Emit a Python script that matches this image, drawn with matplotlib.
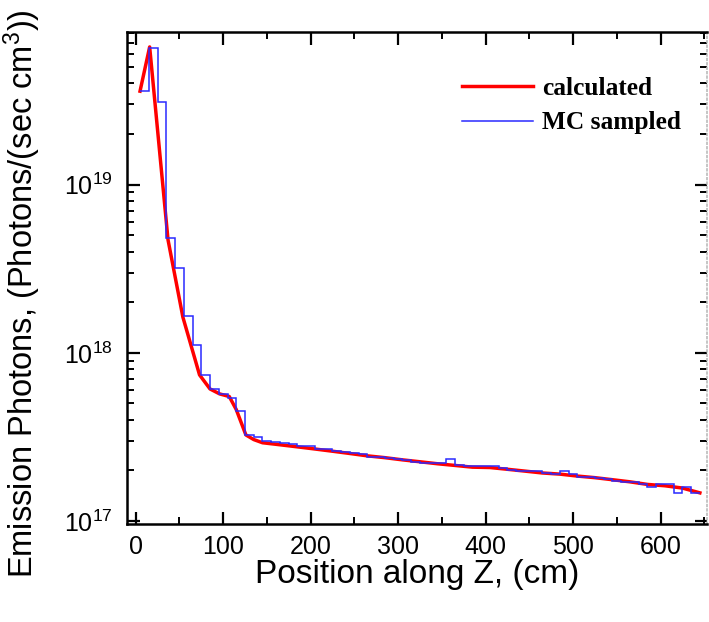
import numpy as np
import matplotlib
matplotlib.use("Agg")
import matplotlib.pyplot as plt
from matplotlib.ticker import LogLocator, MultipleLocator, LogFormatterSciNotation

plt.rcParams['font.family'] = ['Liberation Sans', 'DejaVu Sans']
plt.rcParams['mathtext.fontset'] = 'custom'
plt.rcParams['mathtext.rm'] = 'Liberation Sans'
plt.rcParams['mathtext.it'] = 'Liberation Sans'

# calculated curve (position cm, photons/(sec cm^3))
calc_z = [5, 16, 37, 54, 73, 85, 96, 107, 115, 126, 135, 145, 160, 185, 205, 225,
          245, 265, 285, 305, 325, 345, 365, 385, 405, 425, 445, 465, 485, 505,
          525, 545, 565, 585, 605, 625, 645]
calc_v = [3.6e19, 6.6e19, 4.7e18, 1.63e18, 7.4e17, 6.1e17, 5.7e17, 5.5e17, 4.6e17,
          3.25e17, 3.05e17, 2.92e17, 2.86e17, 2.76e17, 2.68e17, 2.60e17, 2.52e17,
          2.44e17, 2.38e17, 2.31e17, 2.25e17, 2.19e17, 2.14e17, 2.09e17, 2.08e17,
          2.03e17, 1.98e17, 1.93e17, 1.90e17, 1.85e17, 1.81e17, 1.76e17, 1.71e17,
          1.65e17, 1.62e17, 1.57e17, 1.47e17]

# MC sampled histogram (bin edges 5..645, width 10 cm)
mc_edges = list(range(5, 646, 10))
mc_v = [3.6e19, 6.5e19, 3.1e19, 4.8e18, 3.2e18, 1.66e18, 1.12e18, 7.4e17, 6.1e17,
        5.7e17, 5.4e17, 4.5e17, 3.25e17, 3.15e17, 3.0e17, 2.93e17, 2.9e17, 2.87e17,
        2.81e17, 2.81e17, 2.68e17, 2.68e17, 2.62e17, 2.56e17, 2.55e17, 2.50e17,
        2.39e17, 2.39e17, 2.36e17, 2.33e17, 2.31e17, 2.25e17, 2.22e17, 2.20e17,
        2.20e17, 2.33e17, 2.15e17, 2.11e17, 2.13e17, 2.13e17, 2.13e17, 2.06e17,
        2.01e17, 1.99e17, 1.99e17, 1.97e17, 1.92e17, 1.90e17, 1.98e17, 1.90e17,
        1.82e17, 1.82e17, 1.81e17, 1.78e17, 1.74e17, 1.71e17, 1.70e17, 1.65e17,
        1.60e17, 1.65e17, 1.65e17, 1.47e17, 1.59e17, 1.47e17]

xticks = [0, 100, 200, 300, 400, 500, 600]

fig = plt.figure(figsize=(7.09, 6.22), dpi=100)
ax = fig.add_axes([0.179, 0.1576, 0.818, 0.791])

ax.plot(calc_z, calc_v, color='#ff0000', lw=2.5, label='calculated', zorder=2)
ax.stairs(mc_v, mc_edges, baseline=None, color='#2a2aff', lw=1.1,
          label='MC sampled', zorder=3)

ax.set_yscale('log')
ax.set_xlim(-10, 653)
ax.set_ylim(0.96e17, 8.1e19)
ax.set_xticks(xticks)
ax.xaxis.set_minor_locator(MultipleLocator(50))
ax.yaxis.set_major_locator(LogLocator(base=10, numticks=10))
ax.yaxis.set_minor_locator(LogLocator(base=10, subs=np.arange(2, 10), numticks=20))
ax.yaxis.set_major_formatter(LogFormatterSciNotation())

ax.tick_params(axis='both', which='major', direction='in', length=9, width=1.6,
               labelsize=18, top=True, right=True)
ax.tick_params(axis='both', which='minor', direction='in', length=5, width=1.4,
               top=True, right=True)
ax.tick_params(axis='y', which='major', pad=10)
ax.tick_params(axis='x', which='major', pad=8)

for s in ['left', 'bottom', 'top']:
    ax.spines[s].set_linewidth(1.8)
ax.spines['right'].set_color('#bbbbbb')
ax.spines['right'].set_linestyle(':')
ax.spines['right'].set_linewidth(1.2)

ax.set_xlabel('Position along Z, (cm)', fontsize=24, labelpad=0)
ax.set_ylabel('Emission Photons, (Photons/(sec cm$^3$))', fontsize=23.5)
ax.yaxis.set_label_coords(-0.145, 0.468)

leg = ax.legend(loc='upper right', bbox_to_anchor=(0.995, 0.955), frameon=False,
                prop={'family': 'Liberation Serif', 'size': 18.3, 'weight': 'bold'},
                handlelength=2.8, handletextpad=0.35, labelspacing=0.45)

fig.savefig('out.png', dpi=100)
